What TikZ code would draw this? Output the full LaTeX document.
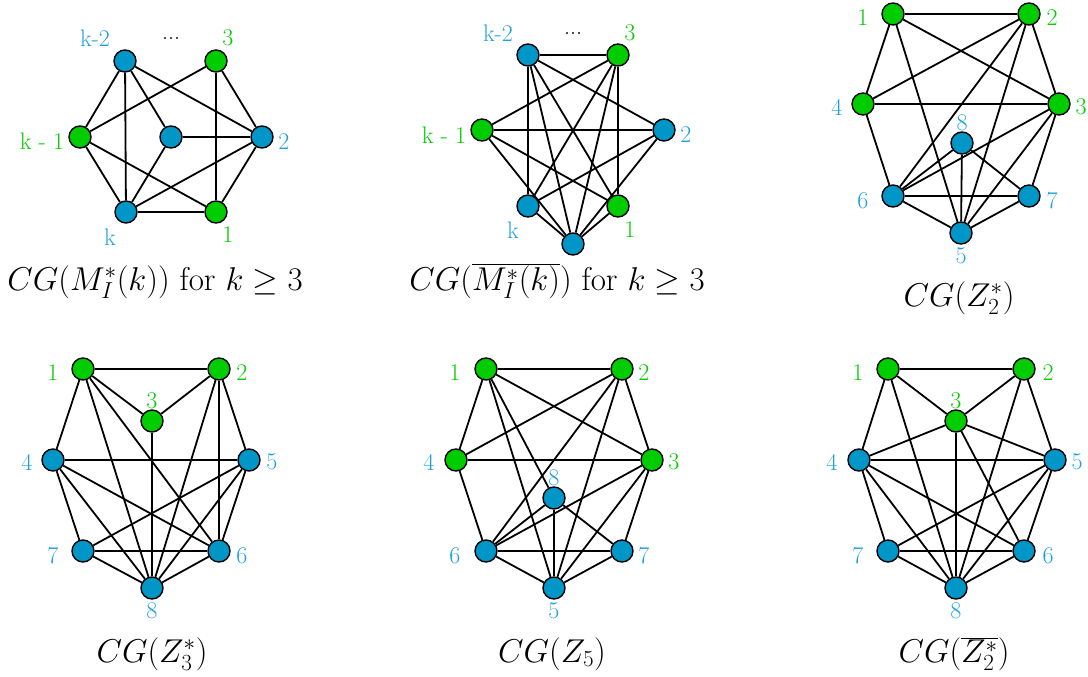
\RequirePackage{fix-cm}
\documentclass[tikz,border=0pt]{standalone}
\pgfdeclarelayer{bg}
\pgfsetlayers{bg,main}
\begin{document}
\begin{tikzpicture}[x=1pt,y=-1pt,
  vb/.style={circle,draw=black,line width=1.4pt,fill=nodeblue,minimum size=22pt,inner sep=0pt},
  vg/.style={circle,draw=black,line width=1.4pt,fill=nodegreen,minimum size=22pt,inner sep=0pt},
  lb/.style={text=labblue,font=\fontsize{24}{28}\selectfont,inner sep=0pt},
  lg/.style={text=labgreen,font=\fontsize{24}{28}\selectfont,inner sep=0pt},
  dotslab/.style={anchor=base,inner sep=0pt,font=\fontsize{24}{28}\selectfont},
  captxt/.style={anchor=base,inner sep=0pt,font=\fontsize{33}{38}\selectfont},
  ed/.style={line width=1.8pt,black}]
\definecolor{nodeblue}{RGB}{0,150,200}
\definecolor{nodegreen}{RGB}{0,204,0}
\definecolor{labblue}{RGB}{30,160,220}
\definecolor{labgreen}{RGB}{0,204,0}
\useasboundingbox (0,0) rectangle (1088,677);

% ---------- Graph 1 ----------
\node[vb] (a1) at (125,61) {};
\node[vg] (a2) at (216,61) {};
\node[vg] (a3) at (80,137) {};
\node[vb] (a4) at (171,137) {};
\node[vb] (a5) at (262,137) {};
\node[vb] (a6) at (126,212) {};
\node[vg] (a7) at (216,212) {};
\begin{pgfonlayer}{bg}
\foreach \u/\v in {a1/a3,a1/a6,a1/a4,a1/a5,a2/a3,a2/a7,a2/a5,a3/a6,a3/a7,a4/a5,a4/a6,a5/a6,a5/a7,a6/a7}
  \draw[ed] (\u) -- (\v);
\end{pgfonlayer}
\node[lb] (la1) at (95,38) {k-2};
\node[dotslab] (ld1) at (171,40) {...};
\node[lg] (la2) at (228,38) {3};
\node[lg] (la3) at (42,141) {k - 1};
\node[lb] (la5) at (284,142) {2};
\node[lb] (la6) at (110,237) {k};
\node[lg] (la7) at (228,235) {1};
\node[captxt] (c1) at (155,290) {$CG(M_I^*(k))$ for $k\geq 3$};

% ---------- Graph 2 ----------
\node[vb] (b1) at (528,55) {};
\node[vg] (b2) at (618,55) {};
\node[vg] (b3) at (482,130) {};
\node[vb] (b4) at (664,130) {};
\node[vb] (b5) at (528,206) {};
\node[vg] (b6) at (618,206) {};
\node[vb] (b7) at (573,244) {};
\begin{pgfonlayer}{bg}
\foreach \u/\v in {b1/b2,b1/b5,b1/b7,b1/b6,b1/b4,b2/b3,b2/b5,b2/b7,b2/b6,b3/b4,b3/b7,b3/b6,b4/b5,b4/b7,b5/b7,b6/b7}
  \draw[ed] (\u) -- (\v);
\end{pgfonlayer}
\node[lb] (lb1) at (498,33) {k-2};
\node[dotslab] (ld2) at (573,35) {...};
\node[lg] (lb2) at (630,33) {3};
\node[lg] (lb3) at (444,135) {k - 1};
\node[lb] (lb4) at (686,135) {2};
\node[lb] (lb5) at (513,230) {k};
\node[lg] (lb6) at (630,230) {1};
\node[captxt] (c2) at (557,290) {$CG(\overline{M_I^*(k)})$ for $k\geq 3$};

% ---------- Graph 3 ----------
\node[vg] (c1n) at (893,14) {};
\node[vg] (c2n) at (1029,14) {};
\node[vg] (c4n) at (863,104) {};
\node[vg] (c3n) at (1059,104) {};
\node[vb] (c8n) at (962,143) {};
\node[vb] (c6n) at (893,196) {};
\node[vb] (c7n) at (1029,196) {};
\node[vb] (c5n) at (961,233) {};
\begin{pgfonlayer}{bg}
\foreach \u/\v in {1/2,1/4,1/3,1/5,2/4,2/3,2/6,2/5,4/3,4/6,3/6,3/7,3/5,8/6,8/5,8/7,6/7,6/5,7/5}
  \draw[ed] (c\u n) -- (c\v n);
\end{pgfonlayer}
\node[lg] (lc1) at (863,18) {1};
\node[lg] (lc2) at (1052,18) {2};
\node[lb] (lc4) at (837,107) {4};
\node[lg] (lc3) at (1081,107) {3};
\node[lb] (lc8) at (962,123) {8};
\node[lb] (lc6) at (863,201) {6};
\node[lb] (lc7) at (1052,201) {7};
\node[lb] (lc5) at (961,256) {5};
\node[captxt] (c3) at (959,306) {$CG(Z_2^*)$};

% ---------- Graph 4 ----------
\node[vg] (d1) at (83,369) {};
\node[vg] (d2) at (219,369) {};
\node[vg] (d3) at (152,421) {};
\node[vb] (d4) at (53,460) {};
\node[vb] (d5) at (249,460) {};
\node[vb] (d7) at (83,551) {};
\node[vb] (d6) at (219,551) {};
\node[vb] (d8) at (152,588) {};
\begin{pgfonlayer}{bg}
\foreach \u/\v in {1/2,1/3,1/4,1/8,1/6,2/3,2/8,2/6,2/5,3/8,4/5,4/7,4/8,4/6,5/7,5/6,5/8,7/6,7/8,6/8}
  \draw[ed] (d\u) -- (d\v);
\end{pgfonlayer}
\node[lg] (ld1a) at (53,373) {1};
\node[lg] (ld2a) at (242,373) {2};
\node[lg] (ld3a) at (152,401) {3};
\node[lb] (ld4a) at (27,462) {4};
\node[lb] (ld5a) at (272,462) {5};
\node[lb] (ld7a) at (53,556) {7};
\node[lb] (ld6a) at (242,556) {6};
\node[lb] (ld8a) at (152,611) {8};
\node[captxt] (c4) at (152,662) {$CG(Z_3^*)$};

% ---------- Graph 5 ----------
\node[vg] (e1) at (486,369) {};
\node[vg] (e2) at (622,369) {};
\node[vg] (e4) at (456,460) {};
\node[vg] (e3) at (652,460) {};
\node[vb] (e8) at (554,498) {};
\node[vb] (e6) at (486,551) {};
\node[vb] (e7) at (622,551) {};
\node[vb] (e5) at (554,588) {};
\begin{pgfonlayer}{bg}
\foreach \u/\v in {1/2,1/4,1/3,1/5,1/8,2/4,2/3,2/6,2/5,4/3,4/6,3/6,3/7,3/5,8/6,8/5,8/7,6/7,6/5,7/5}
  \draw[ed] (e\u) -- (e\v);
\end{pgfonlayer}
\node[lg] (le1) at (455,373) {1};
\node[lg] (le2) at (644,373) {2};
\node[lb] (le4) at (429,462) {4};
\node[lg] (le3) at (674,462) {3};
\node[lb] (le8) at (554,478) {8};
\node[lb] (le6) at (455,556) {6};
\node[lb] (le7) at (644,556) {7};
\node[lb] (le5) at (554,611) {5};
\node[captxt] (c5) at (552,662) {$CG(Z_5)$};

% ---------- Graph 6 ----------
\node[vg] (f1) at (888,369) {};
\node[vg] (f2) at (1024,369) {};
\node[vg] (f3) at (956,421) {};
\node[vb] (f4) at (859,460) {};
\node[vb] (f5) at (1055,460) {};
\node[vb] (f7) at (888,551) {};
\node[vb] (f6) at (1024,551) {};
\node[vb] (f8) at (956,588) {};
\begin{pgfonlayer}{bg}
\foreach \u/\v in {1/2,1/3,1/4,1/8,2/3,2/8,2/5,3/4,3/5,3/8,3/6,4/5,4/7,4/8,4/6,5/7,5/8,5/6,7/6,7/8,6/8}
  \draw[ed] (f\u) -- (f\v);
\end{pgfonlayer}
\node[lg] (lf1) at (858,373) {1};
\node[lg] (lf2) at (1048,373) {2};
\node[lg] (lf3) at (956,401) {3};
\node[lb] (lf4) at (832,462) {4};
\node[lb] (lf5) at (1077,462) {5};
\node[lb] (lf7) at (858,556) {7};
\node[lb] (lf6) at (1048,556) {6};
\node[lb] (lf8) at (956,611) {8};
\node[captxt] (c6) at (954,662) {$CG(\overline{Z_2^*})$};
\end{tikzpicture}
\end{document}
